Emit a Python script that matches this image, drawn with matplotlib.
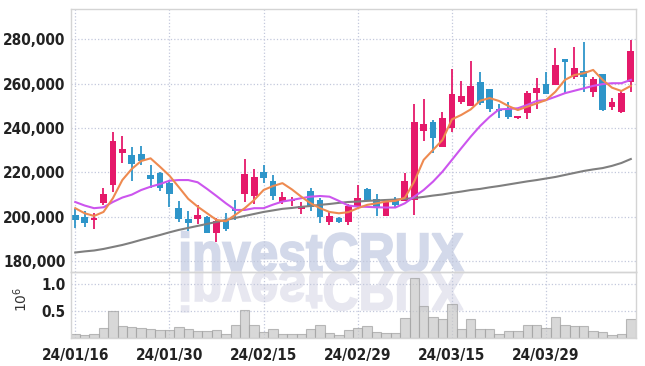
import matplotlib
matplotlib.use("Agg")
import matplotlib.pyplot as plt
import numpy as np
from matplotlib import font_manager
from matplotlib.textpath import TextPath
from matplotlib.patches import PathPatch
from matplotlib.font_manager import FontProperties
from matplotlib.transforms import Affine2D
from matplotlib.ticker import FuncFormatter

# daily candles
opens = [200700, 200000, 198500, 206200, 214300, 228900, 227800, 228300, 218800, 219800,
         215300, 203900, 199000, 199100, 199900, 192500, 197900, 203400, 210100, 209200,
         220200, 216100, 206600, 206900, 203300, 211600, 207400, 197500, 199400, 197500,
         204800, 212500, 207800, 200300, 207500, 207200, 207700, 238800, 242700, 231400,
         240100, 251600, 250100, 260600, 257600, 248600, 248600, 244500, 246600, 255900,
         259800, 259300, 271100, 263200, 265700, 256100, 264400, 249600, 247100, 260600]
highs = [203300, 202700, 201500, 213100, 238300, 236400, 231400, 231900, 223300, 220300,
         216500, 207100, 202700, 205300, 200300, 199500, 201500, 207400, 225900, 221700,
         223300, 218800, 211300, 209000, 206800, 213100, 208600, 202100, 199700, 205700,
         214200, 212700, 210100, 207600, 209000, 219600, 250700, 253000, 243600, 247100,
         266600, 261300, 270400, 265400, 257600, 250800, 251900, 245600, 256800, 262400,
         265400, 276000, 271100, 276400, 278700, 263200, 264400, 253700, 257200, 279700]
lows = [195000, 195500, 194300, 205200, 211300, 224300, 216100, 223300, 213100, 211600,
        204200, 197700, 193500, 196700, 192500, 188400, 193500, 198500, 206800, 205700,
        215300, 207500, 205700, 204800, 201400, 202600, 197300, 196100, 197200, 196100,
        203300, 207300, 200400, 200300, 204500, 207200, 200800, 234300, 228900, 231400,
        238300, 250700, 250100, 250400, 247000, 244400, 243900, 243900, 243900, 248400,
        255500, 259300, 255300, 262100, 256400, 254100, 247700, 248100, 246600, 256100]
closes = [198500, 197300, 199500, 210200, 234000, 230500, 223800, 225300, 217000, 213100,
          210400, 199000, 197100, 200800, 192800, 198100, 194600, 202600, 219200, 217800,
          217600, 209500, 208700, 207700, 204700, 204200, 199700, 200200, 197500, 204700,
          208300, 207500, 204400, 207500, 205100, 216100, 242700, 241800, 235500, 244400,
          255300, 254400, 258900, 251100, 248400, 247700, 245000, 245400, 255900, 258000,
          255500, 268600, 269600, 267100, 263200, 262100, 248100, 251700, 255700, 274700]

ma_short = [203800, 201500, 200300, 202100, 208300, 216500, 221500, 225100, 226300, 222500,
            218500, 213300, 208000, 204500, 201500, 198500, 197900, 200800, 203800, 207500,
            212000, 213800, 215100, 212300, 209000, 206000, 203800, 202100, 201500, 202000,
            203800, 205300, 206000, 206800, 207100, 208500, 215800, 225600, 230100, 234600,
            243900, 245900, 248400, 252300, 253500, 252200, 249900, 248100, 249600, 251100,
            252600, 256400, 261700, 263900, 264700, 266200, 261700, 258200, 256700, 259000]
ma_mid = [206600, 205000, 203800, 204200, 206600, 208600, 209900, 212000, 213500, 214700,
          216200, 216500, 216500, 215500, 212500, 209300, 206000, 203000, 203000, 203800,
          203800, 205400, 206800, 207500, 208300, 209000, 209300, 209000, 207100, 205000,
          204500, 204400, 204200, 204100, 204100, 206000, 209000, 212000, 215800, 220300,
          225600, 230900, 236100, 240900, 245000, 248400, 248600, 248900, 250400, 252200,
          252600, 254100, 255700, 256800, 257900, 259000, 259800, 260200, 260200, 261700]
ma_long = [183800, 184300, 184700, 185400, 186300, 187200, 188300, 189500, 190600, 191700,
           192900, 194000, 194900, 195800, 196700, 197600, 198500, 199400, 200300, 201200,
           202100, 202800, 203500, 203900, 204400, 204800, 205300, 205700, 206200, 206600,
           206800, 207100, 207300, 207500, 207700, 208000, 208400, 208900, 209500, 210000,
           210700, 211300, 212000, 212500, 213200, 213800, 214500, 215200, 215900, 216500,
           217200, 217900, 218800, 219700, 220600, 221300, 221900, 222900, 224200, 226000]

# volume in millions
volume = [0.08, 0.065, 0.08, 0.195, 0.51, 0.23, 0.20, 0.18, 0.163, 0.144,
          0.155, 0.213, 0.163, 0.13, 0.13, 0.15, 0.08, 0.25, 0.53, 0.25,
          0.112, 0.163, 0.08, 0.08, 0.08, 0.17, 0.25, 0.10, 0.065, 0.144,
          0.195, 0.225, 0.112, 0.10, 0.10, 0.375, 1.11, 0.60, 0.40, 0.363,
          0.625, 0.175, 0.345, 0.175, 0.175, 0.082, 0.138, 0.138, 0.25, 0.25,
          0.195, 0.40, 0.25, 0.215, 0.23, 0.138, 0.12, 0.064, 0.08, 0.363]

tick_pos = [0, 10, 20, 30, 40, 50]
tick_labels = ['24/01/16', '24/01/30', '24/02/15', '24/02/29', '24/03/15', '24/03/29']

UP = '#e5196a'
DOWN = '#2e95c9'
GRID = '#c3c8dc'
SPINE = '#d4d4d4'

# look for a narrow bold face for the tick labels
tick_prop = None
for f in font_manager.fontManager.ttflist:
    fn = f.fname.lower()
    if ('condensed' in fn or 'narrow' in fn) and 'bold' in fn and 'oblique' not in fn \
            and 'italic' not in fn and 'semi' not in fn and 'extra' not in fn:
        tick_prop = FontProperties(fname=f.fname, size=11)
        break
if tick_prop is None:
    tick_prop = FontProperties(family='Liberation Sans', weight='bold', size=9.5)

W, H = 645, 366
fig = plt.figure(figsize=(W / 100, H / 100), dpi=100)
ax = fig.add_axes([71 / W, 1 - 272 / H, 565 / W, 263 / H])
axv = fig.add_axes([71 / W, 1 - 338 / H, 565 / W, 66 / H], sharex=ax)
ax.set_facecolor('none')
axv.set_facecolor('none')

x = np.arange(len(opens))
o = np.array(opens); c = np.array(closes)
cols = [UP if cc >= oo else DOWN for oo, cc in zip(o, c)]

ax.vlines(x, lows, highs, colors=cols, lw=1.3, zorder=2)
ax.bar(x, np.maximum(np.abs(c - o), 600), bottom=np.minimum(o, c), width=0.72,
       color=cols, zorder=2.5)
ax.plot(x, ma_long, color='#7f7f7f', lw=1.5, zorder=3)
ax.plot(x, ma_mid, color='#cc55ee', lw=1.5, zorder=3)
ax.plot(x, ma_short, color='#ee8a50', lw=1.5, zorder=3.2)

ax.set_xlim(-0.45, 59.55)
ax.set_ylim(175000, 293700)
ax.set_yticks([180000, 200000, 220000, 240000, 260000, 280000])
ax.yaxis.set_major_formatter(FuncFormatter(lambda v, p: f'{int(v):,}'))
ax.tick_params(axis='x', labelbottom=False, length=0)

axv.bar(x, volume, width=1.0, color='#c8c8c8', edgecolor='#a0a0a0', lw=0.8,
        alpha=0.7, zorder=2)
axv.set_ylim(0, 1.23)
axv.set_yticks([0.5, 1.0])
axv.set_yticklabels(['0.5', '1.0'])
axv.set_xticks(tick_pos)
axv.set_xticklabels(tick_labels)
axv.set_ylabel(r'$10^6$', fontsize=10, color='#333333')
axv.yaxis.set_label_coords(-0.072, 0.58)

for a in (ax, axv):
    a.grid(True, ls=':', color=GRID, lw=0.9, zorder=0)
    a.set_axisbelow(True)
    a.tick_params(length=0, pad=4, labelcolor='#222222')
    for lab in a.get_xticklabels() + a.get_yticklabels():
        lab.set_fontproperties(tick_prop)
    for s in a.spines.values():
        s.set_color(SPINE)
        s.set_linewidth(1.0)
axv.tick_params(axis='x', pad=7)

# watermark and its reflection, drawn under the (transparent) axes
fp = FontProperties(family='Liberation Sans', weight='bold')
tp = TextPath((0, 0), 'investCRUX', size=100, prop=fp)
ext = tp.get_extents()
cap = TextPath((0, 0), 'X', size=100, prop=fp).get_extents().height
sx = 282 / ext.width
sy = 38 / cap
base = H - 271.7
to_fig = Affine2D().scale(1 / W, 1 / H) + fig.transFigure
tr_up = Affine2D().translate(-ext.x0, 0).scale(sx, sy).translate(181.7, base)
tr_dn = Affine2D().translate(-ext.x0, 0).scale(sx, -sy).translate(181.7, base)
fig.add_artist(PathPatch(tr_up.transform_path(tp), transform=to_fig,
                         facecolor='#d3d9ea', edgecolor='#d3d9ea', lw=1.3, zorder=-1))
fig.add_artist(PathPatch(tr_dn.transform_path(tp), transform=to_fig,
                         facecolor='#e7e7f0', edgecolor='#e7e7f0', lw=1.3, zorder=-1))

fig.savefig('out.png', dpi=100)
